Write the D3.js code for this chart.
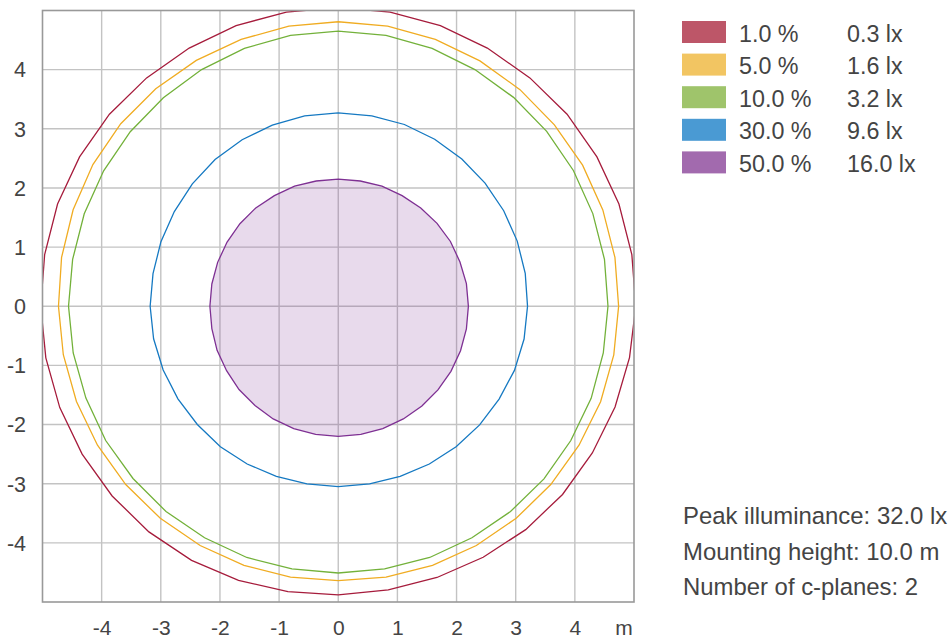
<!DOCTYPE html>
<html><head><meta charset="utf-8">
<script src="https://cdn.jsdelivr.net/npm/d3@7"></script>
<style>
html,body{margin:0;padding:0;background:#fff;}
text{font-family:"Liberation Sans",Arial,sans-serif;fill:#444;}
</style></head>
<body><svg id="chart" width="951" height="640"></svg>
<script>
// ---- data ----
const angles = d3.range(0, 360, 10); // degrees, counter-clockwise from +x
const levelPercents = ["1.0 %", "5.0 %", "10.0 %", "30.0 %", "50.0 %"];
const levelLux = ["0.3 lx", "1.6 lx", "3.2 lx", "9.6 lx", "16.0 lx"];
const lineColors = ["#a61c3c", "#f0ac22", "#73b13a", "#1579c2", "#7e3093"];
const swatchColors = ["#bd5668", "#f2c562", "#9fc46b", "#4a9ad3", "#a26aae"];
const radius1 = [5.03,5.04,5.05,5.05,5.05,5.04,5.04,5.05,5.05,5.05,5.05,5.05,5.04,5.04,5.05,5.05,5.05,5.04,5.03,5.02,5.01,5.00,4.99,4.98,4.96,4.93,4.90,4.88,4.87,4.88,4.90,4.93,4.95,4.96,4.98,5.00];
const radius5 = [4.74,4.75,4.76,4.77,4.77,4.78,4.79,4.80,4.81,4.81,4.81,4.80,4.80,4.80,4.80,4.79,4.77,4.75,4.73,4.72,4.71,4.70,4.69,4.68,4.67,4.66,4.65,4.64,4.65,4.66,4.67,4.68,4.69,4.70,4.72,4.73];
const radius10 = [4.56,4.57,4.58,4.59,4.60,4.61,4.62,4.64,4.65,4.65,4.65,4.64,4.62,4.60,4.59,4.58,4.57,4.56,4.56,4.55,4.54,4.54,4.53,4.53,4.52,4.52,4.51,4.51,4.51,4.52,4.52,4.53,4.54,4.54,4.55,4.55];
const radius30 = [3.20,3.21,3.22,3.23,3.24,3.25,3.26,3.27,3.27,3.27,3.27,3.26,3.25,3.24,3.22,3.20,3.19,3.18,3.18,3.17,3.15,3.13,3.11,3.10,3.08,3.06,3.05,3.05,3.05,3.06,3.08,3.10,3.12,3.14,3.17,3.19];
const radius50 = [2.20,2.20,2.19,2.19,2.18,2.17,2.16,2.16,2.15,2.15,2.15,2.16,2.16,2.17,2.17,2.17,2.17,2.17,2.17,2.17,2.18,2.18,2.19,2.19,2.20,2.20,2.20,2.20,2.20,2.20,2.20,2.20,2.20,2.20,2.20,2.20];
const xTicks = [-4,-3,-2,-1,0,1,2,3,4];
const yTicks = [-4,-3,-2,-1,0,1,2,3,4];
const infoLines = ["Peak illuminance: 32.0 lx", "Mounting height: 10.0 m", "Number of c-planes: 2"];

const radii = [radius1, radius5, radius10, radius30, radius50];

// ---- layout ----
const svg = d3.select("#chart");
const L = 42.5, R = 634, T = 10.5, B = 602;
const x = d3.scaleLinear().domain([-5, 5]).range([L, R]);
const y = d3.scaleLinear().domain([-5, 5]).range([B, T]);

svg.append("defs").append("clipPath").attr("id", "plotclip")
  .append("rect").attr("x", L).attr("y", T).attr("width", R - L).attr("height", B - T);

// grid
const grid = svg.append("g");
grid.selectAll("line.vx").data(xTicks).join("line")
  .attr("x1", d => x(d)).attr("x2", d => x(d)).attr("y1", T).attr("y2", B)
  .attr("stroke", "#c3c3c3").attr("stroke-width", 1.4);
grid.selectAll("line.hy").data(yTicks).join("line")
  .attr("y1", d => y(d)).attr("y2", d => y(d)).attr("x1", L).attr("x2", R)
  .attr("stroke", "#c3c3c3").attr("stroke-width", 1.4);

// contours
const g = svg.append("g").attr("clip-path", "url(#plotclip)");
const line = d3.line().curve(d3.curveLinearClosed);
radii.forEach((rs, i) => {
  const pts = angles.map((a, k) => {
    const t = a * Math.PI / 180;
    return [x(rs[k] * Math.cos(t)), y(rs[k] * Math.sin(t))];
  });
  g.append("path").attr("d", line(pts))
    .attr("fill", i === 4 ? lineColors[i] : "none")
    .attr("fill-opacity", i === 4 ? 0.18 : 0)
    .attr("stroke", lineColors[i]).attr("stroke-width", 1.3);
});

// border
svg.append("rect").attr("x", L).attr("y", T).attr("width", R - L).attr("height", B - T)
  .attr("fill", "none").attr("stroke", "#999").attr("stroke-width", 1.6);

// axes labels
const fmt = d => String(d);
const xAxis = d3.axisBottom(x).tickValues(xTicks).tickFormat(fmt).tickSize(0).tickPadding(0);
const gx = svg.append("g").attr("transform", `translate(0,${B})`).call(xAxis);
gx.select(".domain").remove();
gx.selectAll("text").attr("y", 32.5).attr("dy", 0).style("font-size", "21px")
  .style("font-family", "'Liberation Sans', Arial, sans-serif").attr("fill", "#444");
svg.append("text").attr("x", 624).attr("y", B + 32.5).attr("text-anchor", "middle")
  .style("font-size", "21px").text("m");

const yAxis = d3.axisLeft(y).tickValues(yTicks).tickFormat(fmt).tickSize(0).tickPadding(0);
const gy = svg.append("g").attr("transform", `translate(26,0)`).call(yAxis);
gy.select(".domain").remove();
gy.selectAll("text").attr("x", 0).attr("dy", "0.34em").style("font-size", "21.5px")
  .style("font-family", "'Liberation Sans', Arial, sans-serif").attr("fill", "#444");

// legend
const leg = svg.append("g");
levelPercents.forEach((p, i) => {
  const top = 21 + i * 32.6;
  leg.append("rect").attr("x", 682).attr("y", top).attr("width", 44).attr("height", 22)
    .attr("fill", swatchColors[i]);
  leg.append("text").attr("x", 739).attr("y", top + 20.5).style("font-size", "23.3px").text(p);
  leg.append("text").attr("x", 847).attr("y", top + 20.5).style("font-size", "23.3px").text(levelLux[i]);
});

// info
infoLines.forEach((t, i) => {
  svg.append("text").attr("x", 683).attr("y", 524 + i * 35.5).style("font-size", "23.9px").text(t);
});
</script></body></html>
